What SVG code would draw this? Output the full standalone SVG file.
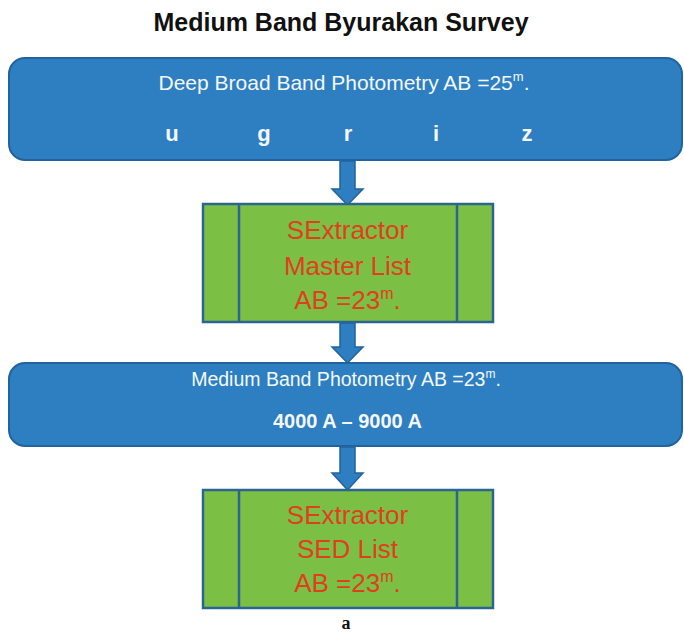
<svg xmlns="http://www.w3.org/2000/svg" width="684" height="636" viewBox="0 0 684 636">
<defs>
<style>
.blue{fill:#2E7EC2;stroke:#22639E;stroke-width:2}
.green{fill:#7BBF45;stroke:#2A6690;stroke-width:2.5}
.div{stroke:#2A6690;stroke-width:2.5;fill:none}
.arrow{fill:#2E7EC2;stroke:#22639E;stroke-width:1.5}
.wt{fill:#F4F8FC;font-family:"Liberation Sans",Arial,sans-serif;text-anchor:middle}
.rt{fill:#E03E1E;font-family:"Liberation Sans",Arial,sans-serif;font-size:26px;text-anchor:middle}
.title{fill:#111;font-family:"Liberation Sans",Arial,sans-serif;font-weight:bold;font-size:25px;text-anchor:middle}
</style>
</defs>
<rect width="684" height="636" fill="#FFFFFF"/>
<text class="title" x="341" y="31">Medium Band Byurakan Survey</text>

<g id="connectors">
<path class="arrow" d="M340,161 H355 V189 H363 L347.5,205 L332,189 H340 Z"/>
<path class="arrow" d="M340,323 H355 V347 H363 L347.5,363 L332,347 H340 Z"/>
<path class="arrow" d="M340,447 H355 V473 H363 L347.5,490 L332,473 H340 Z"/>
</g>

<g id="broadband">
<rect class="blue" x="9" y="58" width="673" height="102" rx="16"/>
<text class="wt" x="344" y="90" font-size="21">Deep Broad Band Photometry AB =25<tspan dy="-9" font-size="13">m</tspan><tspan dy="9">.</tspan></text>
<g class="wt" font-size="22" font-weight="bold">
<text x="172" y="141">u</text>
<text x="264" y="141">g</text>
<text x="348" y="141">r</text>
<text x="436" y="141">i</text>
<text x="527" y="141">z</text>
</g>
</g>

<g id="masterlist">
<rect class="green" x="203" y="204" width="290" height="118"/>
<line class="div" x1="239" y1="204" x2="239" y2="322"/>
<line class="div" x1="457" y1="204" x2="457" y2="322"/>
<text class="rt" x="347.5" y="239">SExtractor</text>
<text class="rt" x="347.5" y="275">Master List</text>
<text class="rt" x="347.5" y="309">AB =23<tspan dy="-10" font-size="16">m</tspan><tspan dy="10">.</tspan></text>
</g>

<g id="mediumband">
<rect class="blue" x="9" y="363" width="673" height="83" rx="16"/>
<text class="wt" x="346" y="386" font-size="19.5">Medium Band Photometry AB =23<tspan dy="-8" font-size="12">m</tspan><tspan dy="8">.</tspan></text>
<text class="wt" x="347.5" y="428" font-size="20" font-weight="bold">4000 A – 9000 A</text>
</g>

<g id="sedlist">
<rect class="green" x="203" y="490" width="290" height="118"/>
<line class="div" x1="239" y1="490" x2="239" y2="608"/>
<line class="div" x1="457" y1="490" x2="457" y2="608"/>
<text class="rt" x="347.5" y="524">SExtractor</text>
<text class="rt" x="347.5" y="558">SED List</text>
<text class="rt" x="347.5" y="592">AB =23<tspan dy="-10" font-size="16">m</tspan><tspan dy="10">.</tspan></text>
</g>

<text x="346" y="629" font-family="'Liberation Serif','Times New Roman',serif" font-weight="bold" font-size="18" fill="#111" text-anchor="middle">a</text>
</svg>
